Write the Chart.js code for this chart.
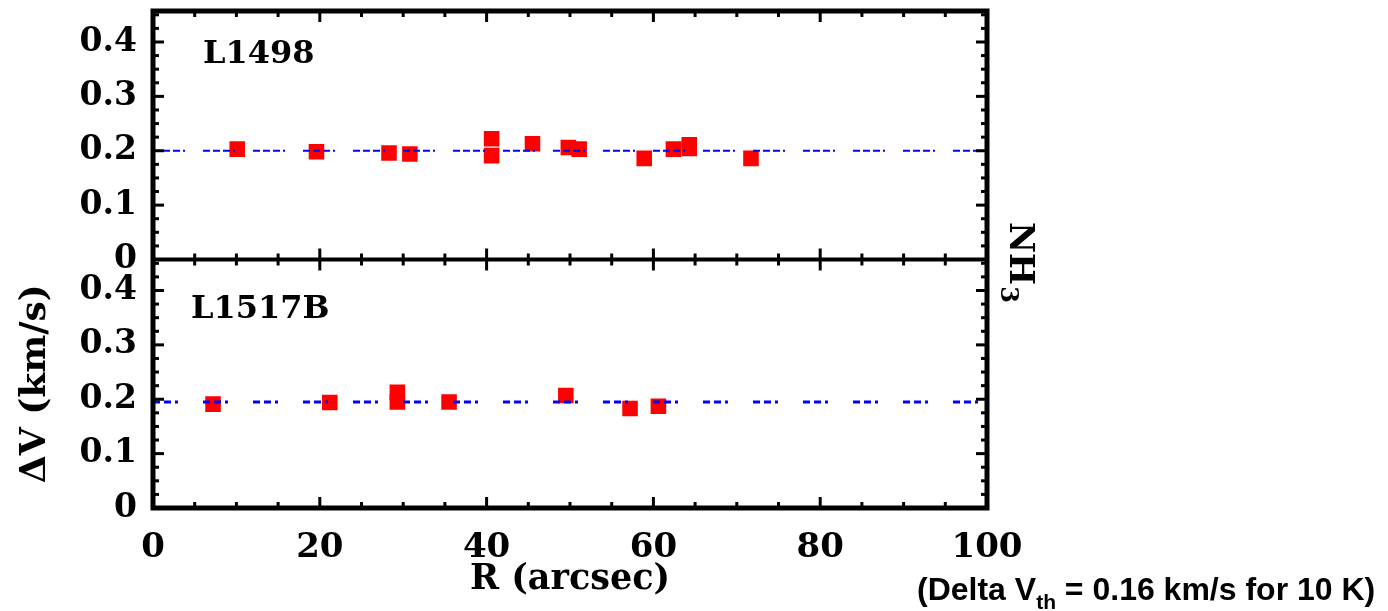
<!DOCTYPE html>
<html><head><meta charset="utf-8">
<script src="https://cdn.jsdelivr.net/npm/chart.js@4.4.1/dist/chart.umd.min.js"></script>
<style>
html,body{margin:0;padding:0;background:#fff;}
#wrap{position:relative;width:1388px;height:611px;overflow:hidden;}
#note{position:absolute;left:917px;top:573px;font-family:"Liberation Sans Narrow","Liberation Sans",Arial,sans-serif;font-weight:bold;font-size:32px;white-space:nowrap;line-height:1;color:#000;}
#note sub{font-size:21px;vertical-align:-9px;line-height:0;}
</style></head><body>
<div id="wrap"><canvas id="c" width="1388" height="611"></canvas>
<div id="note">(Delta V<sub>th</sub> = 0.16 km/s for 10 K)</div></div>
<script>
// ---- data ----
const panelNames = ["L1498", "L1517B"];
const l1498R  = [10.1, 19.6, 28.3, 30.8, 40.6, 40.6, 45.5, 49.8, 51.1, 58.9, 62.4, 64.3, 64.3, 71.7];
const l1498dV = [0.203, 0.198, 0.196, 0.194, 0.222, 0.191, 0.213, 0.206, 0.203, 0.186, 0.203, 0.211, 0.204, 0.186];
const l1517R  = [7.2, 21.2, 29.3, 29.3, 35.5, 49.5, 57.2, 60.6];
const l1517dV = [0.191, 0.194, 0.213, 0.195, 0.195, 0.207, 0.183, 0.187];
const thermalLevel = [0.2, 0.195];   // dashed reference line per panel
const xTicks = [0, 20, 40, 60, 80, 100];
const yTicks = [0, 0.1, 0.2, 0.3, 0.4];
const xRange = [0, 100];
const yRange = [0, 0.457];

const pts = (xs, ys) => xs.map((x, i) => ({x, y: ys[i]}));
const hline = (v) => [{x: xRange[0], y: v}, {x: xRange[1], y: v}];

const serif = '"DejaVu Serif", "Liberation Serif", serif';

const frame = {
  id: 'frame',
  afterDatasetsDraw(chart) {
    const {ctx, chartArea: a, scales} = chart;
    const x = scales.x;
    const line = (x1, y1, x2, y2) => { ctx.beginPath(); ctx.moveTo(x1, y1); ctx.lineTo(x2, y2); ctx.stroke(); };
    ctx.save();
    ctx.strokeStyle = '#000';
    ctx.lineWidth = 3;
    [scales.yTop, scales.yBot].forEach(ys => {
      for (let v = xRange[0]; v <= xRange[1] + 1e-9; v += 5) {
        const px = x.getPixelForValue(v);
        const L = (v % 20 === 0) ? 11 : 6;
        line(px, ys.top, px, ys.top + L);
        line(px, ys.bottom, px, ys.bottom - L);
      }
      for (let i = 0; i * 0.025 <= ys.max + 1e-9; i++) {
        const py = ys.getPixelForValue(i * 0.025);
        const L = (i % 4 === 0) ? 11 : 6;
        line(a.left, py, a.left + L, py);
        line(a.right, py, a.right - L, py);
      }
    });
    ctx.lineWidth = 5;
    ctx.strokeRect(a.left, a.top, a.right - a.left, a.bottom - a.top);
    ctx.lineWidth = 4;
    line(a.left, scales.yTop.bottom, a.right, scales.yTop.bottom);
    ctx.restore();
  },
  afterDraw(chart) {
    const {ctx, chartArea: a, scales} = chart;
    ctx.save();
    ctx.fillStyle = '#000';
    ctx.font = 'bold 32px ' + serif;
    ctx.textBaseline = 'alphabetic';
    ctx.textAlign = 'left';
    ctx.fillText(panelNames[0], a.left + 50, scales.yTop.top + 52);
    ctx.fillText(panelNames[1], a.left + 38, scales.yBot.top + 58);
    // right-side label NH3, rotated clockwise
    ctx.translate(a.right + 23, 222);
    ctx.rotate(Math.PI / 2);
    ctx.font = 'bold 34px ' + serif;
    ctx.fillText('NH', 0, 0);
    const w = ctx.measureText('NH').width;
    ctx.font = 'bold 24px ' + serif;
    ctx.fillText('3', w + 1, 9);
    ctx.restore();
  }
};

const yAxis = (extra) => Object.assign({
  type: 'linear', position: 'left', stack: 'panels', stackWeight: 1,
  min: yRange[0], max: yRange[1],
  grid: {display: false, drawTicks: false}, border: {display: false},
  afterBuildTicks: s => { s.ticks = yTicks.map(v => ({value: v})); },
  afterFit: s => { s.width = 153; s.paddingTop = 0; s.paddingBottom = 0; },
  ticks: {
    padding: 16, color: '#000', autoSkip: false,
    font: {family: serif, weight: 'bold', size: 33, lineHeight: 1},
    callback: v => (v === 0 ? '0' : v.toFixed(1))
  }
}, extra);

new Chart(document.getElementById('c'), {
  type: 'scatter',
  data: {
    datasets: [
      {label: panelNames[1] + ' thermal', type: 'line', data: hline(thermalLevel[1]), yAxisID: 'yBot',
       borderColor: '#0000ff', borderWidth: 3, borderDash: [7, 4, 7, 4, 3, 25], pointRadius: 0, fill: false},
      {label: panelNames[1], data: pts(l1517R, l1517dV), yAxisID: 'yBot',
       pointStyle: 'rect', pointRadius: 11, backgroundColor: '#ff0000', borderWidth: 0},
      {label: panelNames[0] + ' thermal', type: 'line', data: hline(thermalLevel[0]), yAxisID: 'yTop',
       borderColor: '#0000ff', borderWidth: 2, borderDash: [7, 3, 7, 3, 7, 3, 2, 18], pointRadius: 0, fill: false},
      {label: panelNames[0], data: pts(l1498R, l1498dV), yAxisID: 'yTop',
       pointStyle: 'rect', pointRadius: 11, backgroundColor: '#ff0000', borderWidth: 0}
    ]
  },
  options: {
    responsive: false, animation: false, devicePixelRatio: 1,
    layout: {padding: {top: 10, right: 401, left: 0, bottom: 0}},
    plugins: {legend: {display: false}, tooltip: {enabled: false}},
    scales: {
      x: {
        type: 'linear', position: 'bottom', min: xRange[0], max: xRange[1],
        grid: {display: false, drawTicks: false}, border: {display: false},
        afterBuildTicks: s => { s.ticks = xTicks.map(v => ({value: v})); },
        afterFit: s => { s.height = 103; },
        ticks: {padding: 20, color: '#000', maxRotation: 0, autoSkip: false,
                font: {family: serif, weight: 'bold', size: 34}},
        title: {display: true, text: 'R (arcsec)', color: '#000', padding: {top: 0, bottom: 10},
                font: {family: serif, weight: 'bold', size: 35}}
      },
      yBot: yAxis({
        title: {display: true, text: 'ΔV (km/s)', color: '#000', padding: {top: 14, bottom: 0},
                font: {family: serif, weight: 'bold', size: 36}}
      }),
      yTop: yAxis({})
    }
  },
  plugins: [frame]
});
</script>
</body></html>
